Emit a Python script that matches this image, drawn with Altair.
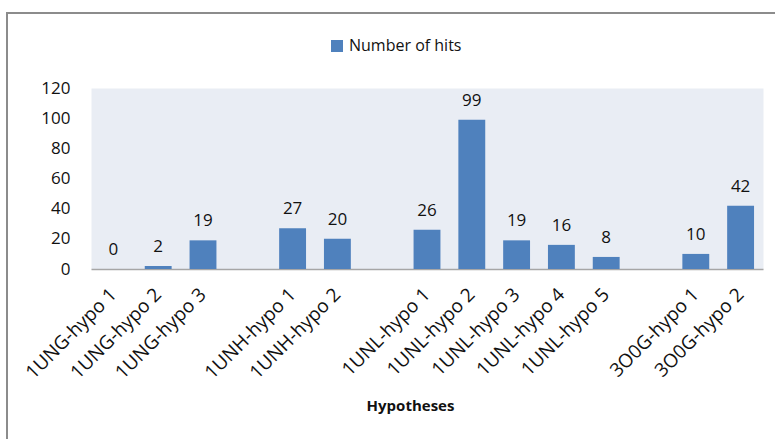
import altair as alt
import pandas as pd

# Hypotheses per structure and their hit counts
hypotheses = [
    "1UNG-hypo 1", "1UNG-hypo 2", "1UNG-hypo 3",
    "1UNH-hypo 1", "1UNH-hypo 2",
    "1UNL-hypo 1", "1UNL-hypo 2", "1UNL-hypo 3", "1UNL-hypo 4", "1UNL-hypo 5",
    "3O0G-hypo 1", "3O0G-hypo 2",
]
hits = [0, 2, 19, 27, 20, 26, 99, 19, 16, 8, 10, 42]

# Category slots on the x axis, with empty slots separating the structures
slots = [
    "1UNG-hypo 1", "1UNG-hypo 2", "1UNG-hypo 3", "gap-1",
    "1UNH-hypo 1", "1UNH-hypo 2", "gap-2",
    "1UNL-hypo 1", "1UNL-hypo 2", "1UNL-hypo 3", "1UNL-hypo 4", "1UNL-hypo 5", "gap-3",
    "3O0G-hypo 1", "3O0G-hypo 2",
]
y_ticks = [0, 20, 40, 60, 80, 100, 120]
series_name = "Number of hits"

df = pd.DataFrame({"hypothesis": hypotheses, "hits": hits, "series": series_name})

FONT = "Open Sans"
BAR = "#4F81BD"

x_enc = alt.X(
    "hypothesis:N",
    sort=slots,
    scale=alt.Scale(domain=slots, paddingInner=0.4, paddingOuter=0.2),
    axis=alt.Axis(
        title="Hypotheses",
        labelAngle=-45,
        labelAlign="right",
        labelBaseline="middle",
        labelPadding=22,
        labelOverlap=False,
        labelExpr="indexof(datum.value, 'gap') === 0 ? '' : datum.value",
        labelFontSize=19,
        labelColor="#111111",
        labelFont=FONT,
        ticks=False,
        domainColor="#a6a6a6",
        domainWidth=1.5,
        titleFont=FONT,
        titleFontSize=15,
        titleFontWeight="bold",
        titleColor="#111111",
        titleX=319,
        titleY=136,
        titleBaseline="middle",
        titleAnchor="start",
        titleAlign="center",
    ),
)

y_enc = alt.Y(
    "hits:Q",
    scale=alt.Scale(domain=[0, 120]),
    axis=alt.Axis(
        title=None,
        values=y_ticks,
        labelOverlap=False,
        grid=False,
        ticks=False,
        domain=False,
        labelPadding=21,
        labelFontSize=17,
        labelFont=FONT,
        labelColor="#111111",
    ),
)

base = alt.Chart(df).encode(x=x_enc, y=y_enc)

bars = base.mark_bar().encode(
    color=alt.Color(
        "series:N",
        scale=alt.Scale(domain=[series_name], range=[BAR]),
        legend=alt.Legend(
            title=None,
            orient="none",
            legendX=238,
            legendY=-50,
            symbolType="square",
            symbolSize=144,
            symbolStrokeWidth=0,
            labelFont=FONT,
            labelFontSize=16,
            labelColor="#111111",
            padding=0,
        ),
    ),
)

labels = base.mark_text(
    dy=-14, baseline="alphabetic", font=FONT, fontSize=17, color="#111111"
).encode(text="hits:Q")

# Outer chart frame, running off the right and bottom edges
frame = alt.Chart(alt.Data(values=[{}])).mark_rect(
    fillOpacity=0, stroke="#8c8c8c", strokeWidth=2
).encode(
    x=alt.value(-84), x2=alt.value(760), y=alt.value(-75), y2=alt.value(420)
)

chart = alt.layer(frame, bars, labels).properties(
    width=672,
    height=181,
    autosize=alt.AutoSizeParams(type="none"),
    padding={"left": 91, "top": 88, "right": 12, "bottom": 170},
    background="white",
).configure_view(
    fill="#E9EDF4", stroke="transparent"
).configure_axisY(labelOverlap=False)

chart.save("out.html", embed_options={"renderer": "svg", "actions": False})
